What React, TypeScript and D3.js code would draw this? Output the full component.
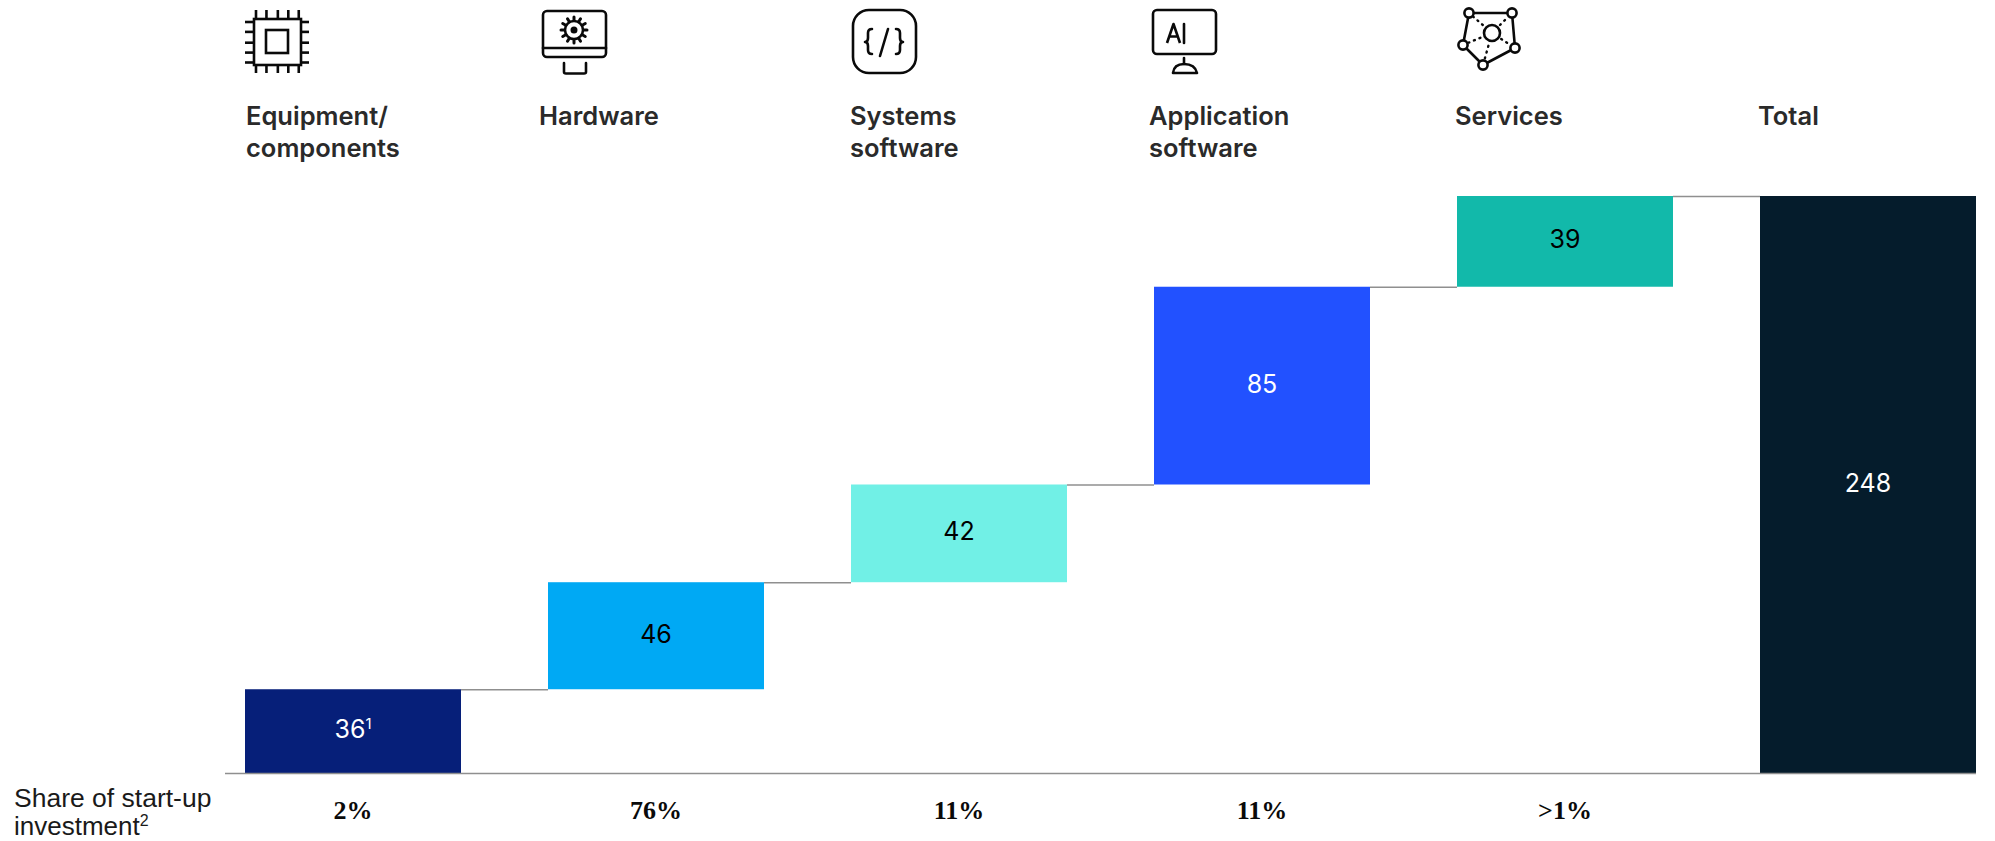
import React from 'react';
import * as d3 from 'd3';

const categories = ['Equipment/components', 'Hardware', 'Systems software', 'Application software', 'Services', 'Total'];
const headerLines = [['Equipment/', 'components'], ['Hardware'], ['Systems', 'software'], ['Application', 'software'], ['Services'], ['Total']];
const values = [36, 46, 42, 85, 39, 248];
const shares = ['2%', '76%', '11%', '11%', '>1%', ''];
const valueNotes = ['1', '', '', '', '', ''];
const barColors = ['#061f79', '#00a9f4', '#71f0e6', '#2251ff', '#12b9aa', '#051c2c'];
const labelColors = ['#ffffff', '#000000', '#000000', '#ffffff', '#000000', '#ffffff'];
const headerX = [246, 539, 850, 1149, 1455, 1758];

const W = 1995, H = 841;
const baseY = 773, topY = 196;
const x = d3.scaleBand<string>().domain(categories).range([245, 1976]).paddingInner(87 / 303).paddingOuter(0);
const bw = x.bandwidth();
const y = d3.scaleLinear().domain([0, 248]).range([baseY, topY]);

const starts: number[] = [];
values.forEach((v, i) => {
  const prev = i === 0 ? 0 : starts[i - 1] + values[i - 1];
  starts.push(i === values.length - 1 ? 0 : prev);
});

const sans = 'Inter, sans-serif';
const plain = '"Liberation Sans", Arial, sans-serif';
const serif = '"Liberation Serif", serif';
const ink = { fill: 'none', stroke: '#0a0a0a', strokeWidth: 2.6, strokeLinecap: 'round' as const, strokeLinejoin: 'round' as const };

function Chip() {
  const offs = [0, 11, 23, 34, 45];
  return (
    <g {...ink}>
      <rect x={254} y={19} width={47} height={46} strokeLinejoin="miter" />
      <rect x={266} y={30} width={22} height={23} strokeLinejoin="miter" />
      {offs.map(o => (
        <g key={o} strokeLinecap="butt">
          <line x1={256 + o * 0.95} x2={256 + o * 0.95} y1={10} y2={19} />
          <line x1={256 + o * 0.95} x2={256 + o * 0.95} y1={65} y2={73} />
          <line y1={22 + o * 0.9} y2={22 + o * 0.9} x1={245} x2={254} />
          <line y1={22 + o * 0.9} y2={22 + o * 0.9} x1={301} x2={309} />
        </g>
      ))}
    </g>
  );
}

function Hardware() {
  const teeth = d3.range(12).map(i => (i * Math.PI) / 6);
  return (
    <g {...ink}>
      <rect x={543} y={11} width={63} height={46} rx={4} />
      <line x1={543} x2={606} y1={48} y2={48} />
      <circle cx={574} cy={30} r={9} />
      <circle cx={574} cy={30} r={2.2} fill="#0a0a0a" />
      {teeth.map((t, i) => (
        <line key={i} x1={574 + 10 * Math.cos(t)} y1={30 + 10 * Math.sin(t)} x2={574 + 13 * Math.cos(t)} y2={30 + 13 * Math.sin(t)} strokeWidth={3} />
      ))}
      <path d="M564 63 V72 Q564 73.5 566 73.5 H584 Q586 73.5 586 72 V63" />
    </g>
  );
}

function Systems() {
  return (
    <g {...ink}>
      <rect x={853} y={10} width={63} height={63} rx={16} />
      <line x1={888} y1={29} x2={880} y2={56} />
      <path d="M872 29 Q868 29 868 33 V38 Q868 42 865 42 Q868 42 868 46 V50 Q868 54 872 54" />
      <path d="M896 29 Q900 29 900 33 V38 Q900 42 903 42 Q900 42 900 46 V50 Q900 54 896 54" />
    </g>
  );
}

function Application() {
  return (
    <g {...ink}>
      <rect x={1153} y={10} width={63} height={44} rx={4} />
      <path d="M1167 43 L1173.5 24 L1180 43 M1169.3 36.5 H1177.7" strokeLinecap="butt" />
      <line x1={1184} x2={1184} y1={24} y2={43} />
      <line x1={1184} x2={1184} y1={58} y2={64} />
      <path d="M1173 73 Q1174 64 1184 64 Q1195 64 1197 73 Z" />
    </g>
  );
}

function ServicesIcon() {
  const nodes: [number, number][] = [[1469, 13], [1512, 13], [1515, 48], [1483, 65], [1463, 45]];
  const c: [number, number] = [1492, 33];
  return (
    <g {...ink}>
      <polygon points={nodes.map(n => n.join(',')).join(' ')} />
      {nodes.map((n, i) => (
        <line key={i} x1={c[0] + (n[0] - c[0]) * 0.4} y1={c[1] + (n[1] - c[1]) * 0.4} x2={c[0] + (n[0] - c[0]) * 0.8} y2={c[1] + (n[1] - c[1]) * 0.8} strokeDasharray="1 5" strokeWidth={2.4} />
      ))}
      {nodes.map((n, i) => <circle key={i} cx={n[0]} cy={n[1]} r={4.6} fill="#fff" />)}
      <circle cx={c[0]} cy={c[1]} r={8} />
    </g>
  );
}

export default function App() {
  return (
    <svg width={W} height={H} viewBox={`0 0 ${W} ${H}`} style={{ position: 'absolute', left: 0, top: 0, background: '#fff' }}>
      <Chip />
      <Hardware />
      <Systems />
      <Application />
      <ServicesIcon />

      {headerLines.map((lines, i) => (
        <text key={i} fontFamily={sans} fontSize={25.5} fontWeight={600} fill="#2a2a2a">
          {lines.map((l, j) => <tspan key={j} x={headerX[i]} y={125 + j * 32}>{l}</tspan>)}
        </text>
      ))}

      {categories.slice(0, -1).map((c, i) => {
        const level = y(starts[i] + values[i]);
        return <line key={c} x1={x(c)! + bw} x2={x(categories[i + 1])!} y1={level + 0.5} y2={level + 0.5} stroke="#8f8f8f" strokeWidth={1.5} />;
      })}

      {categories.map((c, i) => (
        <rect key={c} x={x(c)} width={bw} y={y(starts[i] + values[i])} height={y(starts[i]) - y(starts[i] + values[i])} fill={barColors[i]} />
      ))}

      <line x1={225} x2={1976} y1={baseY + 0.5} y2={baseY + 0.5} stroke="#8f8f8f" strokeWidth={1.5} />

      {categories.map((c, i) => (
        <text key={c} x={x(c)! + bw / 2} y={(y(starts[i]) + y(starts[i] + values[i])) / 2 + 7} textAnchor="middle" fontFamily={sans} fontSize={25} fill={labelColors[i]}>
          {values[i]}
          {valueNotes[i] && <tspan dy={-9} fontSize={15}>{valueNotes[i]}</tspan>}
        </text>
      ))}

      {categories.map((c, i) => (
        <text key={c} x={x(c)! + bw / 2} y={819} textAnchor="middle" fontFamily={serif} fontWeight={700} fontSize={26} fill="#0a0a0a">{shares[i]}</text>
      ))}

      <text x={14} y={807} fontFamily={plain} fontSize={26.5} fill="#1a1a1a">Share of start-up</text>
      <text x={14} y={835} fontFamily={plain} fontSize={26} fill="#1a1a1a">
        investment
        <tspan dy={-9} fontSize={16}>2</tspan>
      </text>
    </svg>
  );
}
